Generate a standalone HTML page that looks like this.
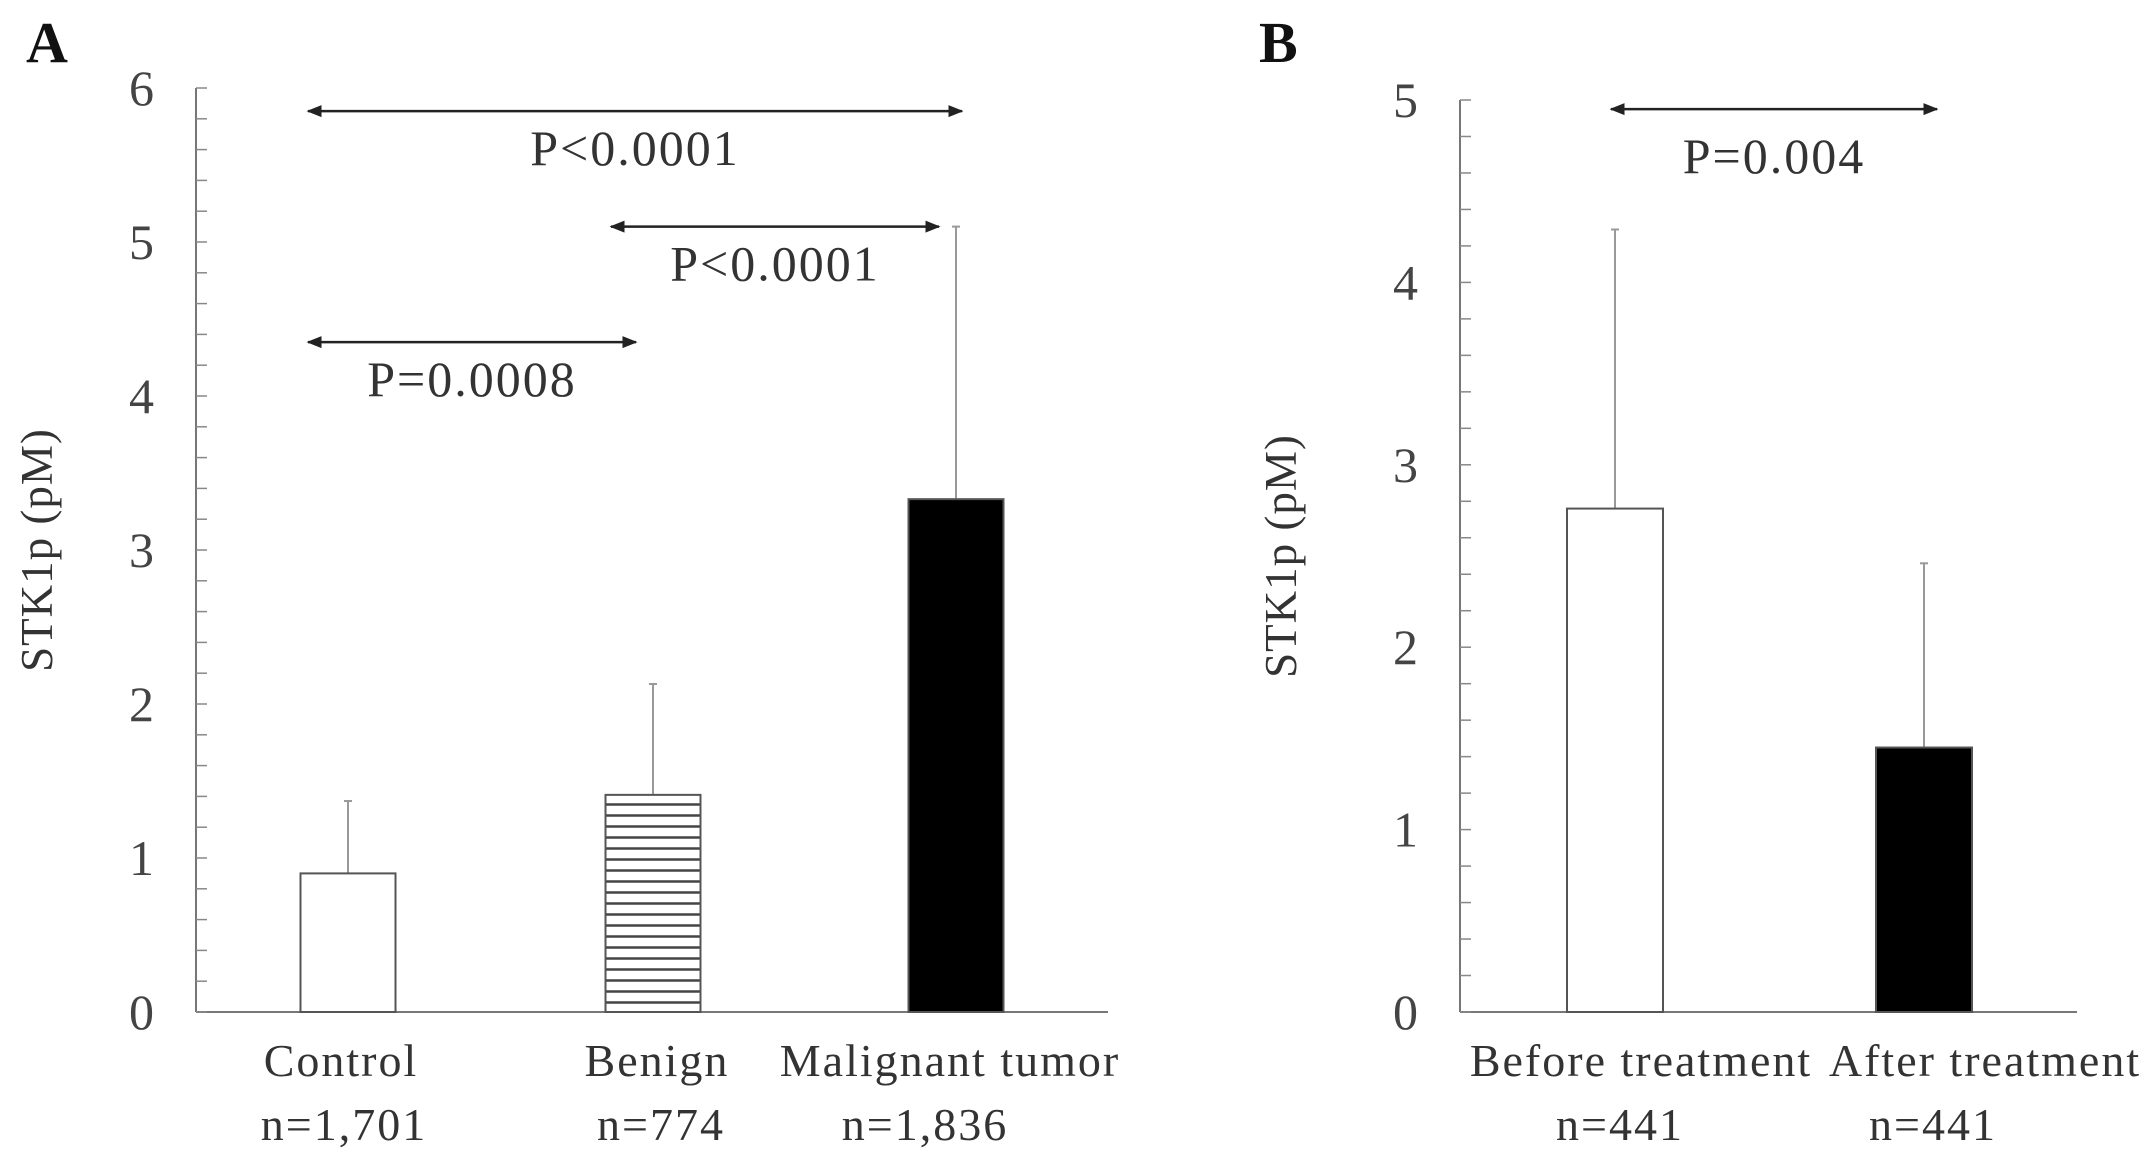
<!DOCTYPE html>
<html><head><meta charset="utf-8"><style>
html,body{margin:0;padding:0;background:#fff;}
svg{display:block;font-family:"Liberation Serif",serif;}
</style></head><body>
<svg id="chart" width="2150" height="1159" viewBox="0 0 2150 1159" xmlns="http://www.w3.org/2000/svg">
<defs>
<pattern id="hatch" width="10" height="11" patternUnits="userSpaceOnUse">
<rect width="10" height="11" fill="#fff"/><line x1="0" y1="1.5" x2="10" y2="1.5" stroke="#444" stroke-width="2.5"/>
</pattern>
<marker id="ah" viewBox="0 0 10 10" refX="9" refY="5" markerWidth="6" markerHeight="6" orient="auto-start-reverse"><path d="M0,1 L10,5 L0,9 z" fill="#222"/></marker>
</defs>
<g id="gA"></g>
<g id="gB"></g>
</svg>
<script>
const NS="http://www.w3.org/2000/svg";
// Panel A data
const catsA=["Control","Benign","Malignant tumor"];
const nA=["n=1,701","n=774","n=1,836"];
const meansA=[0.9,1.41,3.33];
const errTopsA=[1.37,2.13,5.1];
const fillsA=["#fff","url(#hatch)","#000"];
const ticksA=[0,1,2,3,4,5,6];
const sigA=[{from:0,to:2,y:5.85,label:"P<0.0001",ly:5.5},{from:1,to:2,y:5.1,label:"P<0.0001",ly:4.75},{from:0,to:1,y:4.35,label:"P=0.0008",ly:4.0}];
// Panel B data
const catsB=["Before treatment","After treatment"];
const nB=["n=441","n=441"];
const meansB=[2.76,1.45];
const errTopsB=[4.29,2.46];
const fillsB=["#fff","#000"];
const ticksB=[0,1,2,3,4,5];
const sigB=[{from:0,to:1,y:4.95,label:"P=0.004",ly:4.6}];

function el(parent,tag,attrs,text){const e=document.createElementNS(NS,tag);for(const k in attrs)e.setAttribute(k,attrs[k]);if(text!==undefined)e.textContent=text;parent.appendChild(e);return e;}

function panel(g,cfg){
  const y=v=>cfg.y0-(v-cfg.vmin)*(cfg.y0-cfg.ytop)/(cfg.vmax-cfg.vmin);
  const ax=el(g,'line',{x1:cfg.ax,y1:y(cfg.vmax),x2:cfg.ax,y2:cfg.y0,stroke:'#777','stroke-width':2});
  
  const xa=el(g,'line',{x1:cfg.ax,y1:cfg.y0,x2:cfg.xend,y2:cfg.y0,stroke:'#777','stroke-width':2});
  
  const maxT=cfg.ticks[cfg.ticks.length-1];
  for(let v=0;v<=maxT+1e-9;v+=0.2){
    const t=el(g,'line',{x1:cfg.ax,y1:y(v),x2:cfg.ax+11,y2:y(v),stroke:'#888','stroke-width':1.5});
    
  }
  cfg.ticks.forEach(v=>{
    const t=el(g,'text',{x:cfg.ax-42,y:y(v)+17,'text-anchor':'end','font-size':50,fill:'#444'},String(v));
    
  });
  const yt=el(g,'text',{x:0,y:0,transform:`translate(${cfg.titleX},${(y(cfg.vmax)+cfg.y0)/2}) rotate(-90)`,'text-anchor':'middle','font-size':45,'letter-spacing':1,fill:'#333'},'STK1p (pM)');
  
  cfg.means.forEach((m,i)=>{
    const cx=cfg.centers[i];
    const e=el(g,'line',{x1:cx,y1:y(cfg.errTops[i]),x2:cx,y2:y(m),stroke:'#999','stroke-width':2});
    
    const cap=el(g,'line',{x1:cx-4,y1:y(cfg.errTops[i]),x2:cx+4,y2:y(cfg.errTops[i]),stroke:'#999','stroke-width':2});
    
    const b=el(g,'rect',{x:cx-cfg.bw/2,y:y(m),width:cfg.bw,height:cfg.y0-y(m),fill:cfg.fills[i],stroke:'#555','stroke-width':2});
    
    const c=el(g,'text',{x:cfg.labelX[i],y:1076,'text-anchor':'middle','font-size':46,'letter-spacing':2,fill:'#333'},cfg.cats[i]);
    
    const n=el(g,'text',{x:cfg.nX[i],y:1140,'text-anchor':'middle','font-size':46,'letter-spacing':2,fill:'#333'},cfg.n[i]);
    
  });
  cfg.sig.forEach((s,k)=>{
    const x1=cfg.centers[s.from]+cfg.arrowOff[k][0],x2=cfg.centers[s.to]+cfg.arrowOff[k][1];
    const a=el(g,'line',{x1:x1,y1:y(s.y),x2:x2,y2:y(s.y),stroke:'#222','stroke-width':2.5,'marker-start':'url(#ah)','marker-end':'url(#ah)'});
    
    const t=el(g,'text',{x:(x1+x2)/2,y:y(s.ly),'text-anchor':'middle','font-size':50,'letter-spacing':2,fill:'#333'},s.label);
    
  });
  const L=el(g,'text',{x:cfg.letterX,y:62,'font-size':58,'font-weight':'bold',fill:'#111'},cfg.letter);
  
}
panel(document.getElementById('gA'),{ax:196,xend:1108,y0:1012,ytop:88,vmin:0,vmax:6,ticks:ticksA,means:meansA,errTops:errTopsA,fills:fillsA,cats:catsA,n:nA,
  centers:[348,653,956],bw:95,labelX:[341,657,950],nX:[344,661,925],sig:sigA,arrowOff:[[-40,6],[-42,-17],[-40,-17]],titleX:52,letter:'A',letterX:26});
panel(document.getElementById('gB'),{ax:1460,xend:2077,y0:1012,ytop:100,vmin:0,vmax:5,ticks:ticksB,means:meansB,errTops:errTopsB,fills:fillsB,cats:catsB,n:nB,
  centers:[1615,1924],bw:96,labelX:[1641,1985],nX:[1620,1933],sig:sigB,arrowOff:[[-4,13]],titleX:1296,letter:'B',letterX:1259});
</script>
</body></html>
